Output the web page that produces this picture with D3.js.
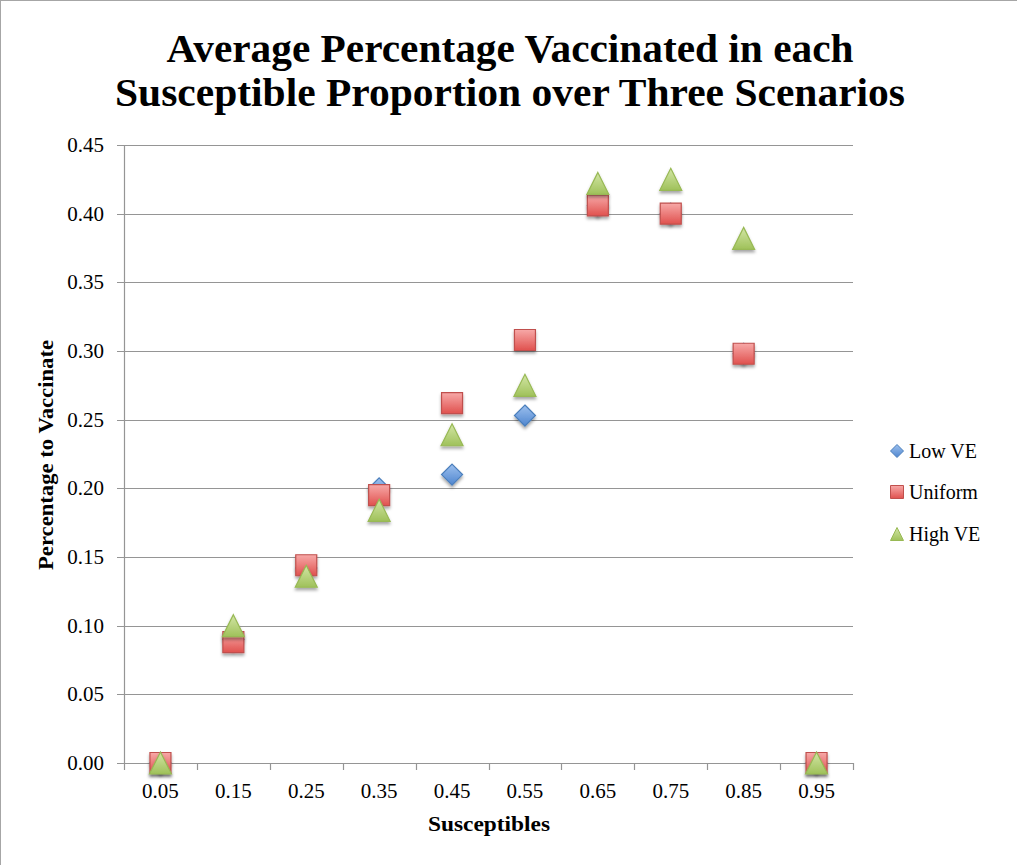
<!DOCTYPE html>
<html>
<head>
<meta charset="utf-8">
<script src="https://cdn.jsdelivr.net/npm/d3@7"></script>
<style>
  html, body { margin: 0; padding: 0; background: #fff; }
  svg { display: block; }
  text { font-family: "Liberation Serif", "DejaVu Serif", serif; fill: #000; }
</style>
</head>
<body>
<svg id="chart" width="1017" height="865"></svg>
<script>
// Susceptible proportion categories (x axis)
const categories = ["0.05", "0.15", "0.25", "0.35", "0.45", "0.55", "0.65", "0.75", "0.85", "0.95"];
// Average proportion vaccinated per scenario
const lowVE   = [0.000, 0.090, 0.142, 0.200, 0.210, 0.253, 0.406, 0.400, 0.298, 0.000];
const uniform = [0.000, 0.088, 0.144, 0.195, 0.262, 0.308, 0.406, 0.400, 0.298, 0.000];
const highVE  = [0.000, 0.100, 0.136, 0.184, 0.239, 0.275, 0.422, 0.425, 0.382, 0.000];
const yTicks = [0, 0.05, 0.10, 0.15, 0.20, 0.25, 0.30, 0.35, 0.40, 0.45];
const seriesNames = ["Low VE", "Uniform", "High VE"];
const titleLines = ["Average Percentage Vaccinated in each", "Susceptible Proportion over Three Scenarios"];

const svg = d3.select("#chart");
const plot = { left: 124, right: 853, top: 145, bottom: 763 };

// frame edges of the chart area
svg.append("line").attr("x1", 0).attr("x2", 1017).attr("y1", 0.5).attr("y2", 0.5).attr("stroke", "#a6a6a6");
svg.append("line").attr("x1", 0.5).attr("x2", 0.5).attr("y1", 0).attr("y2", 865).attr("stroke", "#a6a6a6");

const x = d3.scaleBand().domain(categories).range([plot.left, plot.right]).padding(0);
const y = d3.scaleLinear().domain([0, 0.45]).range([plot.bottom, plot.top]);

// gradients and shadow for the markers
const defs = svg.append("defs");
function grad(id, c1, c2) {
  const g = defs.append("linearGradient").attr("id", id).attr("x1", 0).attr("y1", 0).attr("x2", 0).attr("y2", 1);
  g.append("stop").attr("offset", "0%").attr("stop-color", c1);
  g.append("stop").attr("offset", "100%").attr("stop-color", c2);
}
grad("gBlue", "#9dc0ee", "#4f86cf");
grad("gRed", "#f7a9a8", "#e0514e");
grad("gGreen", "#d3e6a6", "#9fc15a");
const f = defs.append("filter").attr("id", "shadow").attr("x", "-50%").attr("y", "-50%").attr("width", "200%").attr("height", "200%");
f.append("feDropShadow").attr("dx", 0).attr("dy", 2.5).attr("stdDeviation", 1.6)
  .attr("flood-color", "#000").attr("flood-opacity", 0.35);

// gridlines + y ticks
svg.append("g").selectAll("line").data(yTicks).join("line")
  .attr("x1", plot.left - 7).attr("x2", plot.right)
  .attr("y1", d => Math.round(y(d)) + 0.5).attr("y2", d => Math.round(y(d)) + 0.5)
  .attr("stroke", "#959595").attr("stroke-width", 1.2);

// y axis line
svg.append("line").attr("x1", plot.left + 0.5).attr("x2", plot.left + 0.5)
  .attr("y1", plot.top).attr("y2", plot.bottom + 0.5)
  .attr("stroke", "#959595").attr("stroke-width", 1.2);

// x axis ticks at band boundaries
const edges = categories.map(c => x(c)).concat([plot.right]);
svg.append("g").selectAll("line").data(edges).join("line")
  .attr("x1", d => Math.round(d) + 0.5).attr("x2", d => Math.round(d) + 0.5)
  .attr("y1", plot.bottom).attr("y2", plot.bottom + 7)
  .attr("stroke", "#959595").attr("stroke-width", 1.2);

// y tick labels
svg.append("g").selectAll("text").data(yTicks).join("text")
  .attr("x", 104).attr("y", d => y(d) + 7)
  .attr("text-anchor", "end").attr("font-size", 21)
  .text(d => d.toFixed(2));

// x tick labels
svg.append("g").selectAll("text").data(categories).join("text")
  .attr("x", d => x(d) + x.bandwidth() / 2).attr("y", 798)
  .attr("text-anchor", "middle").attr("font-size", 21)
  .text(d => d);

// axis titles
svg.append("text").attr("x", 489).attr("y", 831).attr("text-anchor", "middle")
  .attr("font-size", 21).attr("font-weight", "bold")
  .attr("textLength", 122).attr("lengthAdjust", "spacingAndGlyphs").text("Susceptibles");
svg.append("text").attr("transform", "translate(53,455) rotate(-90)").attr("text-anchor", "middle")
  .attr("font-size", 21).attr("font-weight", "bold")
  .attr("textLength", 230).attr("lengthAdjust", "spacingAndGlyphs").text("Percentage to Vaccinate");

// title
const titleSpecs = [{ y: 62, w: 687 }, { y: 106, w: 790 }];
svg.append("g").selectAll("text").data(titleLines).join("text")
  .attr("x", 510).attr("y", (d, i) => titleSpecs[i].y)
  .attr("text-anchor", "middle").attr("font-size", 40).attr("font-weight", "bold")
  .attr("textLength", (d, i) => titleSpecs[i].w).attr("lengthAdjust", "spacingAndGlyphs")
  .text(d => d);

// marker shapes
function shapePath(kind, s) {
  const h = s / 2;
  if (kind === "diamond") return `M0,${-h}L${h},0L0,${h}L${-h},0Z`;
  if (kind === "square") return `M${-h},${-h}H${h}V${h}H${-h}Z`;
  return `M0,${-h}L${h},${h}H${-h}Z`;
}
const series = [
  { name: seriesNames[0], values: lowVE, kind: "diamond", fill: "url(#gBlue)", stroke: "#4a7ebb", size: 21 },
  { name: seriesNames[1], values: uniform, kind: "square", fill: "url(#gRed)", stroke: "#c0504d", size: 21 },
  { name: seriesNames[2], values: highVE, kind: "triangle", fill: "url(#gGreen)", stroke: "#98b954", size: 22 }
];

series.forEach(s => {
  svg.append("g").selectAll("path").data(s.values).join("path")
    .attr("transform", (d, i) => `translate(${x(categories[i]) + x.bandwidth() / 2},${y(d)})`)
    .attr("d", shapePath(s.kind, s.size))
    .attr("fill", s.fill).attr("stroke", s.stroke).attr("stroke-width", 1.2)
    .attr("filter", "url(#shadow)");
});

// legend
const legendY = [451, 492, 534];
const legend = svg.append("g").selectAll("g").data(series).join("g")
  .attr("transform", (d, i) => `translate(897,${legendY[i]})`);
legend.append("path")
  .attr("d", d => shapePath(d.kind, 13))
  .attr("fill", d => d.fill).attr("stroke", d => d.stroke).attr("stroke-width", 1);
legend.append("text").attr("x", 12).attr("y", 7).attr("font-size", 20).text(d => d.name);
</script>
</body>
</html>
